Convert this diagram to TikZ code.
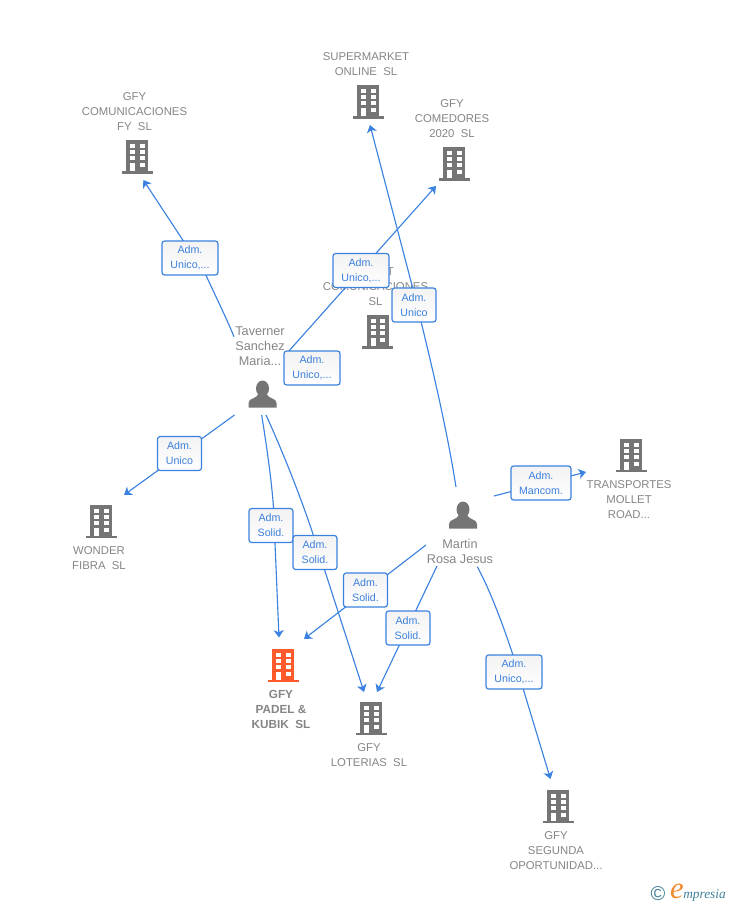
\documentclass[tikz,border=0pt]{standalone}
\usepackage{fontspec}
\setmainfont{Liberation Sans}
\newfontfamily\logoserif{Liberation Serif}
\usetikzlibrary{arrows.meta}
\definecolor{icongray}{HTML}{757575}
\definecolor{textgray}{HTML}{858585}
\definecolor{iconorange}{HTML}{FF5A2B}
\definecolor{linkblue}{HTML}{3B82E0}
\definecolor{labelblue}{HTML}{3C80DA}
\definecolor{logoteal}{HTML}{3F7F98}
\definecolor{logoorange}{HTML}{F28A2E}
\tikzset{
  x=0.75pt,y=-0.75pt,
  iconspot/.style={inner sep=0pt,minimum size=1pt,outer sep=0pt},
  company/.style={text=textgray,align=center,inner sep=0pt,font=\fontsize{8.5pt}{11.25pt}\selectfont},
  companybold/.style={company,font=\fontsize{8.8pt}{11.25pt}\selectfont\bfseries},
  person/.style={text=textgray,align=center,inner sep=0pt,font=\fontsize{9.5pt}{11.25pt}\selectfont},
  link/.style={draw=linkblue,line width=0.85pt,-{Stealth[length=5.5pt,width=7.5pt,inset=1.5pt]}},
  rolebox/.style={draw=linkblue,line width=0.9pt,rounded corners=2pt,top color=black!5,bottom color=white,
    text=labelblue,align=center,inner sep=0pt,minimum height=25.5pt,
    execute at begin node={\rule{0pt}{7.3pt}},
    font=\fontsize{8pt}{11.25pt}\selectfont},
  narrowbox/.style={rolebox,minimum width=33pt},
  midbox/.style={rolebox,minimum width=42pt},
  widebox/.style={rolebox,minimum width=45pt},
  pics/building/.style={code={
    \fill[#1] (-11,-16.5) rectangle (11,14.5);
    \fill[#1] (-15.5,14.5) rectangle (15.5,17);
    \fill[white] (-7,-12.5) rectangle (-2,-8.5);
    \fill[white] (2.5,-12.5) rectangle (7.5,-8.5);
    \fill[white] (-7,-6.5) rectangle (-2,-2.5);
    \fill[white] (2.5,-6.5) rectangle (7.5,-2.5);
    \fill[white] (-7,-0.5) rectangle (-2,3.5);
    \fill[white] (2.5,-0.5) rectangle (7.5,3.5);
    \fill[white] (-7,6.5) rectangle (-2,14.5);
    \fill[white] (2.5,6.5) rectangle (7.5,10.5);
  }},
  pics/personicon/.style={code={
    \fill[icongray] (0,-5.5) ellipse [x radius=6.5,y radius=8];
    \fill[icongray] (-14,13.5) -- (-14,9) .. controls (-14,4) and (-6,5) .. (-4,0) -- (4,0)
      .. controls (6,5) and (14,4) .. (14,9) -- (14,13.5) -- cycle;
  }},
}
\begin{document}
\begin{tikzpicture}
\useasboundingbox (0,0) rectangle (728,905);

% icon anchors
\node[iconspot] (sup) at (368,102) {};
\node[iconspot] (com) at (454,164) {};
\node[iconspot] (fy) at (137,157) {};
\node[iconspot] (smart) at (377.5,331.5) {};
\node[iconspot] (trans) at (631,455) {};
\node[iconspot] (wonder) at (101,521) {};
\node[iconspot] (padel) at (283,665) {};
\node[iconspot] (lot) at (371,718) {};
\node[iconspot] (seg) at (558,806) {};
\node[iconspot] (tav) at (262.5,394) {};
\node[iconspot] (mar) at (463,515) {};

\pic at (sup) {building=icongray};
\pic at (com) {building=icongray};
\pic at (fy) {building=icongray};
\pic at (smart) {building=icongray};
\pic at (trans) {building=icongray};
\pic at (wonder) {building=icongray};
\pic at (padel) {building=iconorange};
\pic at (lot) {building=icongray};
\pic at (seg) {building=icongray};
\pic at (tav) {personicon};
\pic at (mar) {personicon};

% texts
\node[company] (sup-t) at (366,64.2) {SUPERMARKET\\ONLINE~\ SL};
\node[company] (com-t) at (452,118.7) {GFY\\COMEDORES\\2020~\ SL};
\node[company] (fy-t) at (134.5,111.7) {GFY\\COMUNICACIONES\\FY~\ SL};
\node[company] (smart-t) at (375.5,286.7) {GFY~\ T\\COMUNICACIONES\\SL};
\node[company] (trans-t) at (629,499.7) {TRANSPORTES\\MOLLET\\ROAD...};
\node[company] (wonder-t) at (99,558.2) {WONDER\\FIBRA~\ SL};
\node[companybold] (padel-t) at (281,709.7) {GFY\\PADEL \&\\KUBIK~\ SL};
\node[company] (lot-t) at (369,755.2) {GFY\\LOTERIAS~\ SL};
\node[company] (seg-t) at (556,850.7) {GFY\\SEGUNDA\\OPORTUNIDAD...};
\node[person] (tav-t) at (260,346.7) {Taverner\\Sanchez\\Maria...};
\node[person] (mar-t) at (460,551.2) {Martin\\Rosa Jesus};

% connectors: a curved run up to the role box, then a straight run to the tip
\draw[link] ([shift={(-28.5,-57.3)}]tav.center)
  .. controls ([shift={(-37.5,-79)}]tav.center) and ([shift={(-47.5,-99)}]tav.center)
  .. ([shift={(-56.5,-118.7)}]tav.center) -- ([shift={(6.3,23)}]fy.center);
\draw[link] ([shift={(25.5,-42)}]tav.center) -- ([shift={(-18,22)}]com.center);
\draw[link] ([shift={(-28,21)}]tav.center) -- ([shift={(23,-26)}]wonder.center);
\draw[link] ([shift={(-0.8,21)}]tav.center)
  .. controls ([shift={(5.5,61)}]tav.center) and ([shift={(9.5,91)}]tav.center)
  .. ([shift={(11,114)}]tav.center) -- ([shift={(-4,-27.5)}]padel.center);
\draw[link] ([shift={(3.5,21)}]tav.center)
  .. controls ([shift={(19.5,56)}]tav.center) and ([shift={(37.5,101)}]tav.center)
  .. ([shift={(50.8,141)}]tav.center) -- ([shift={(-7,-26)}]lot.center);
\draw[link] ([shift={(-7,-28)}]mar.center)
  .. controls ([shift={(-16,-85)}]mar.center) and ([shift={(-31,-150)}]mar.center)
  .. ([shift={(-50.3,-227)}]mar.center) -- ([shift={(2,23)}]sup.center);
\draw[link] ([shift={(31,-19)}]mar.center) -- ([shift={(-45,17)}]trans.center);
\draw[link] ([shift={(-37,30)}]mar.center) -- ([shift={(21,-26)}]padel.center);
\draw[link] ([shift={(-26,51)}]mar.center) -- ([shift={(6,-26)}]lot.center);
\draw[link] ([shift={(14.3,51.7)}]mar.center)
  .. controls ([shift={(27,75)}]mar.center) and ([shift={(40,110)}]mar.center)
  .. ([shift={(49.7,139.3)}]mar.center) -- ([shift={(-7.5,-27)}]seg.center);

% role boxes
\node[midbox] (b1) at (190,258) {Adm.\\Unico,...};
\node[midbox] (b2) at (361,270.5) {Adm.\\Unico,...};
\node[midbox] (b3) at (312,368) {Adm.\\Unico,...};
\node[narrowbox] (b4) at (414,305) {Adm.\\Unico};
\node[narrowbox] (b5) at (179.5,453.5) {Adm.\\Unico};
\node[narrowbox] (b6) at (271,525.5) {Adm.\\Solid.};
\node[narrowbox] (b7) at (315,552.5) {Adm.\\Solid.};
\node[narrowbox] (b8) at (365.5,590) {Adm.\\Solid.};
\node[narrowbox] (b9) at (408,628) {Adm.\\Solid.};
\node[widebox] (b10) at (541,483) {Adm.\\Mancom.};
\node[midbox] (b11) at (514,672) {Adm.\\Unico,...};

% logo
\node[inner sep=0pt,text=logoteal,font=\fontsize{15pt}{15pt}\selectfont] (logo-c) at (658,894) {©};
\node[inner sep=0pt,text=logoorange,font=\logoserif\itshape\fontsize{23pt}{23pt}\selectfont] (logo-e) at (677,891) {e};
\node[inner sep=0pt,anchor=west,text=logoteal,font=\logoserif\itshape\fontsize{10pt}{10pt}\selectfont] (logo-t) at (683,895) {mpresia};
\end{tikzpicture}
\end{document}
